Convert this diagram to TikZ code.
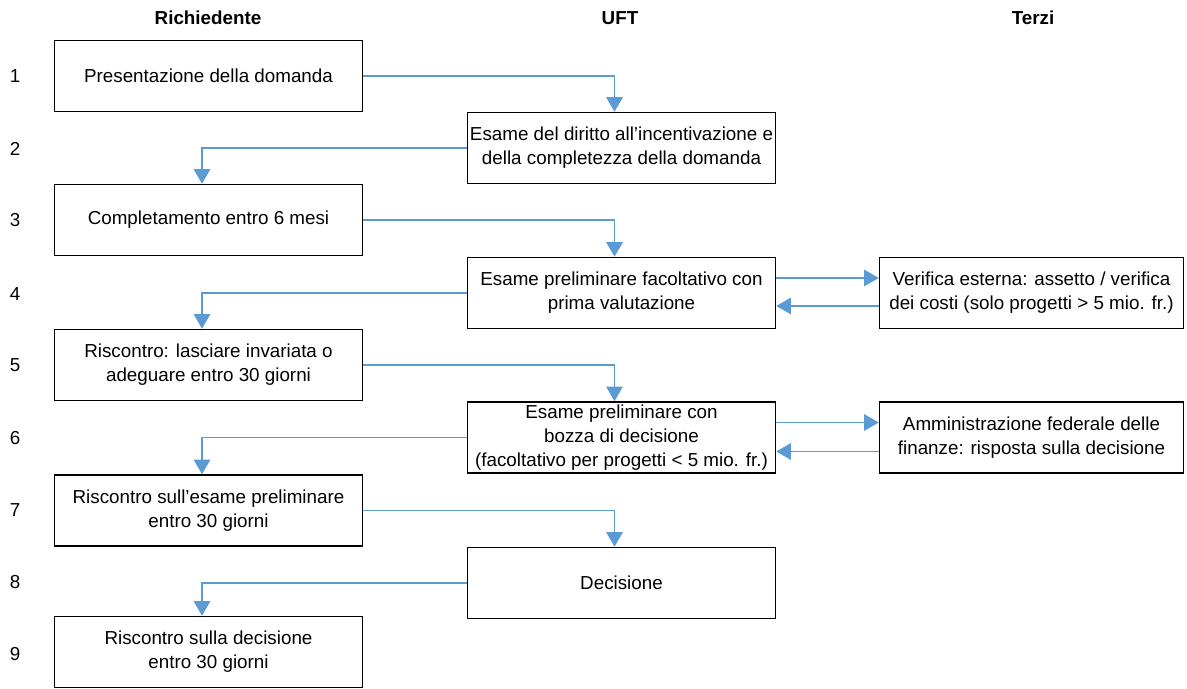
\documentclass[tikz,border=0pt]{standalone}
\usepackage{fontspec}
\setmainfont{Liberation Sans}
\usetikzlibrary{arrows.meta}
\definecolor{flowblue}{HTML}{5B9BD5}
\newcommand\px{0.75pt}

\begin{document}
\begin{tikzpicture}[x=\px,y=-\px,
  every node/.style={font=\fontsize{14.1}{18}\selectfont},
  stepbox/.style={draw,line width=1.2pt,minimum width=308*\px,minimum height=71*\px,align=center,inner sep=1pt},
  head/.style={font=\fontsize{14.1}{18}\selectfont\bfseries},
  flow/.style={draw=flowblue,line width=0.9pt,-{Triangle[length=11pt,width=12.5pt]}}]
\useasboundingbox (0,0) rectangle (1187,688);

\node[head] (hR) at (208,18) {Richiedente};
\node[head] (hU) at (620,18) {UFT};
\node[head] (hT) at (1033,18) {Terzi};

\foreach \i/\y in {1/76,2/149,3/220,4/294,5/365,6/438,7/510,8/582,9/654}
  \node (n\i) at (15,\y) {\i};

\node[stepbox] (r1) at (208.5,76) {Presentazione della domanda};
\node[stepbox] (u2) at (621.5,148) {Esame del diritto all’incentivazione e\\della completezza della domanda};
\node[stepbox] (r3) at (208.5,220) {Completamento entro 6 mesi};
\node[stepbox] (u4) at (621.5,293) {Esame preliminare facoltativo con\\prima valutazione};
\node[stepbox,minimum width=304*\px] (t4) at (1031.5,293) {Verifica esterna: assetto / verifica\\dei costi (solo progetti > 5 mio. fr.)};
\node[stepbox] (r5) at (208.5,365) {Riscontro: lasciare invariata o\\adeguare entro 30 giorni};
\node[stepbox] (u6) at (621.5,437.5) {Esame preliminare con\\bozza di decisione\\(facoltativo per progetti < 5 mio. fr.)};
\node[stepbox,minimum width=304*\px] (t6) at (1031.5,437.5) {Amministrazione federale delle\\finanze: risposta sulla decisione};
\node[stepbox] (r7) at (208.5,510.5) {Riscontro sull’esame preliminare\\entro 30 giorni};
\node[stepbox] (u8) at (621.5,583) {Decisione};
\node[stepbox] (r9) at (208.5,652) {Riscontro sulla decisione\\entro 30 giorni};

% main flow
\draw[flow] (r1.east) -| ([xshift=-7*\px]u2.north);
\draw[flow] (u2.west) -| ([xshift=-6.5*\px]r3.north);
\draw[flow] (r3.east) -| ([xshift=-7*\px]u4.north);
\draw[flow] (u4.west) -| ([xshift=-6.5*\px]r5.north);
\draw[flow] (r5.east) -| ([xshift=-7*\px]u6.north);
\draw[flow] (u6.west) -| ([xshift=-6.5*\px]r7.north);
\draw[flow] (r7.east) -| ([xshift=-7*\px]u8.north);
\draw[flow] (u8.west) -| ([xshift=-6.5*\px]r9.north);

% third parties
\draw[flow] ([yshift=15*\px]u4.east) -- ([yshift=15*\px]t4.west);
\draw[flow] ([yshift=-13*\px]t4.west) -- ([yshift=-13*\px]u4.east);
\draw[flow] ([yshift=15*\px]u6.east) -- ([yshift=15*\px]t6.west);
\draw[flow] ([yshift=-14*\px]t6.west) -- ([yshift=-14*\px]u6.east);

\end{tikzpicture}
\end{document}
